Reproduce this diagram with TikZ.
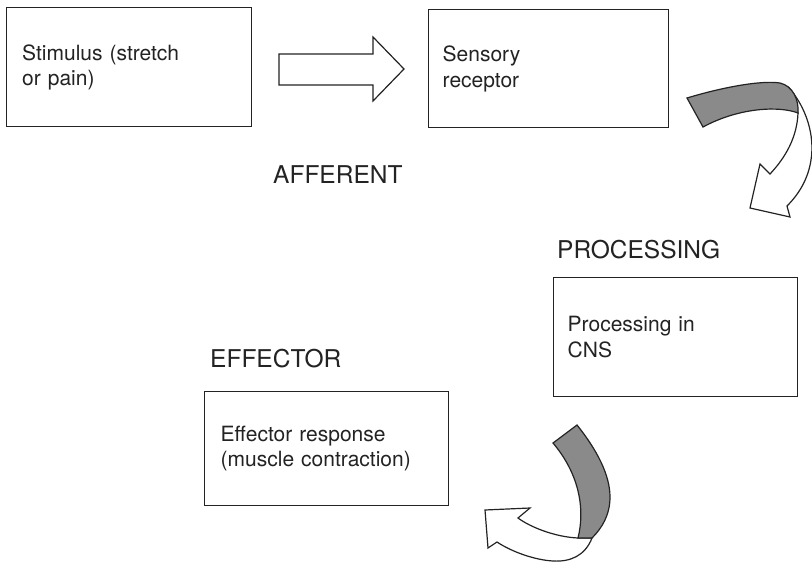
\documentclass[tikz,border=0pt]{standalone}
\usepackage{fontspec}
\setmainfont{TeX Gyre Heros}
\definecolor{inkc}{RGB}{35,35,35}
\definecolor{ribbon}{RGB}{138,138,138}
\tikzset{
  box/.style={draw=inkc, line width=1.4pt, rectangle, anchor=north west, align=left,
    inner xsep=15pt, inner ysep=0pt, font=\fontsize{21}{25.5}\selectfont, text=inkc},
  stagelabel/.style={anchor=base west, inner sep=0pt, font=\fontsize{24.5}{29}\selectfont, text=inkc},
  blockarrow/.style={draw=inkc, line width=1.2pt, line join=miter, fill=white},
  twist/.style={draw=inkc, line width=1.2pt, line join=miter, fill=ribbon}
}
\begin{document}
\begin{tikzpicture}[x=1pt,y=-1pt]
\useasboundingbox[fill=white] (0,0) rectangle (812,562);
% boxes
\node[box, minimum width=245pt, minimum height=119pt, text width=214pt] (stim) at (6,7)
  {Stimulus (stretch\\or pain)};
\node[box, minimum width=240pt, minimum height=118pt, text width=212pt, inner xsep=13pt] (sens) at (428,9)
  {Sensory\\receptor};
\node[box, minimum width=244pt, minimum height=119pt, text width=216pt, inner xsep=14pt] (cns) at (553,277)
  {Processing in\\CNS};
\node[box, minimum width=244pt, minimum height=114pt, text width=212pt, inner xsep=16pt] (eff) at (204,391)
  {Effector response\\(muscle contraction)};
% stage labels
\node[stagelabel] (aff) at (273,183) {AFFERENT};
\node[stagelabel] (proc) at (557,258) {PROCESSING};
\node[stagelabel] (effl) at (210,367) {EFFECTOR};
% straight block arrow
\draw[blockarrow] (279,54) -- (373,54) -- (373,37) -- (404,69) -- (373,101) -- (373,85) -- (279,85) -- cycle;
% curved arrow 1 (receptor -> CNS)
\draw[blockarrow] (790,89) .. controls (806,108) and (815,135) .. (811,160)
  .. controls (808,180) and (798,195) .. (787,206) -- (790,217) -- (750,208) -- (760,164) -- (770,174)
  .. controls (785,158) and (797,138) .. (798,113) -- cycle;
\draw[twist] (687,98) .. controls (720,88) and (760,80) .. (780,83)
  .. controls (793,86) and (799,100) .. (798,113)
  .. controls (780,106) and (740,107) .. (703,127) -- cycle;
% curved arrow 2 (CNS -> effector)
\draw[blockarrow] (592,538) .. controls (585,556) and (570,562) .. (553,561)
  .. controls (535,560) and (512,552) .. (497,542) -- (488,548) -- (485,510) -- (530,508) -- (518,518)
  .. controls (530,527) and (555,537) .. (578,538) -- cycle;
\draw[twist] (553,443) -- (577,425) .. controls (597,450) and (610,475) .. (610,497)
  .. controls (610,515) and (602,528) .. (592,538) -- (578,538)
  .. controls (585,510) and (580,475) .. (553,443) -- cycle;
\end{tikzpicture}
\end{document}
